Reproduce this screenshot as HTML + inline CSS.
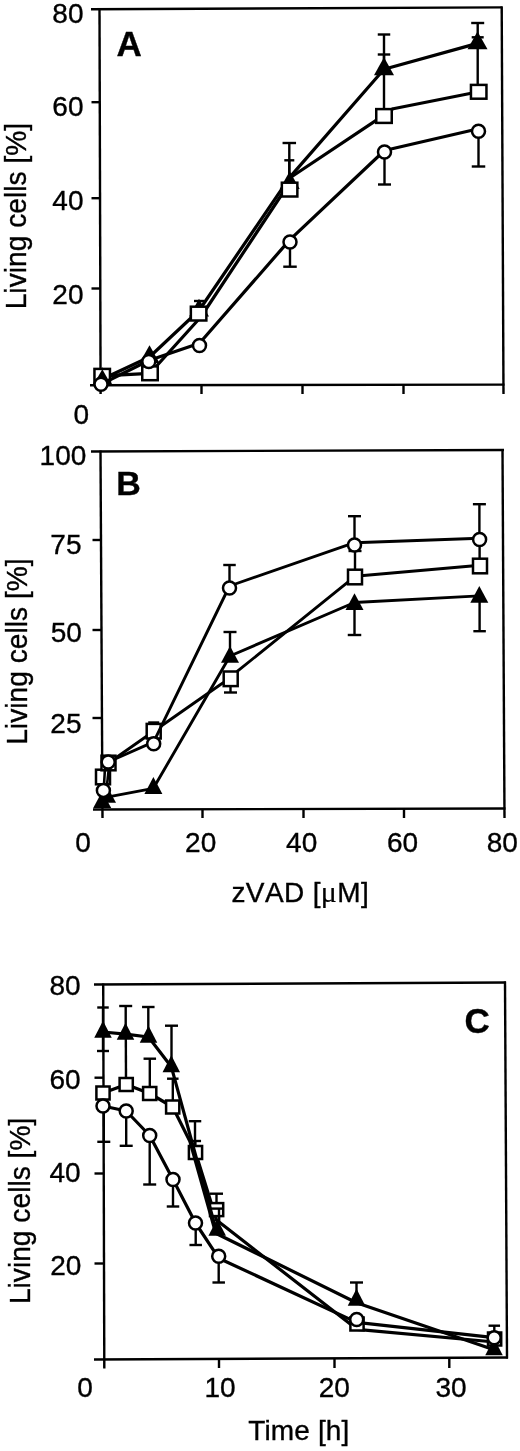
<!DOCTYPE html>
<html><head><meta charset="utf-8"><title>Figure</title>
<style>
html,body{margin:0;padding:0;background:#fff;}
svg{display:block;}
text{font-family:"Liberation Sans",sans-serif;fill:#000;stroke:#000;stroke-width:0.35px;}
</style></head><body>
<svg width="520" height="1451" viewBox="0 0 520 1451">
<rect width="520" height="1451" fill="#fff"/>
<line x1="91" y1="9.3" x2="502.5" y2="7.4" stroke="#000" stroke-width="2.4" stroke-linecap="butt"/>
<line x1="99.5" y1="8.3" x2="100.6" y2="394" stroke="#000" stroke-width="2.4" stroke-linecap="butt"/>
<line x1="501.7" y1="6.4" x2="503.5" y2="394" stroke="#000" stroke-width="2.4" stroke-linecap="butt"/>
<line x1="90" y1="385.2" x2="504.5" y2="384.6" stroke="#000" stroke-width="2.4" stroke-linecap="butt"/>
<line x1="91.5" y1="102.2" x2="100.5" y2="102.2" stroke="#000" stroke-width="2.4" stroke-linecap="butt"/>
<line x1="91.5" y1="198.2" x2="100.5" y2="198.2" stroke="#000" stroke-width="2.4" stroke-linecap="butt"/>
<line x1="91.5" y1="288.5" x2="100.5" y2="288.5" stroke="#000" stroke-width="2.4" stroke-linecap="butt"/>
<line x1="201.5" y1="385" x2="201.5" y2="394" stroke="#000" stroke-width="2.4" stroke-linecap="butt"/>
<line x1="302.5" y1="385" x2="302.5" y2="394" stroke="#000" stroke-width="2.4" stroke-linecap="butt"/>
<line x1="403.5" y1="385" x2="403.5" y2="394" stroke="#000" stroke-width="2.4" stroke-linecap="butt"/>
<text x="83.5" y="22.8" font-size="28" text-anchor="end" font-weight="normal" >80</text>
<text x="83.5" y="116" font-size="28" text-anchor="end" font-weight="normal" >60</text>
<text x="83.5" y="209.7" font-size="28" text-anchor="end" font-weight="normal" >40</text>
<text x="83.5" y="303.6" font-size="28" text-anchor="end" font-weight="normal" >20</text>
<text x="81.3" y="424" font-size="28" text-anchor="middle" font-weight="normal" >0</text>
<text x="116.5" y="56" font-size="35" text-anchor="start" font-weight="bold" >A</text>
<text transform="translate(25.8,216.1) rotate(-90) scale(1,1.055)" font-size="28.2" text-anchor="middle">Living cells [%]</text>
<line x1="199" y1="313" x2="199" y2="301" stroke="#000" stroke-width="2.4" stroke-linecap="butt"/>
<line x1="194.0" y1="301" x2="204.0" y2="301" stroke="#000" stroke-width="2.4" stroke-linecap="butt"/>
<line x1="289.3" y1="181" x2="289.3" y2="143" stroke="#000" stroke-width="2.4" stroke-linecap="butt"/>
<line x1="282.55" y1="143" x2="296.05" y2="143" stroke="#000" stroke-width="2.4" stroke-linecap="butt"/>
<line x1="289.3" y1="189" x2="289.3" y2="160.3" stroke="#000" stroke-width="2.4" stroke-linecap="butt"/>
<line x1="284.3" y1="160.3" x2="294.3" y2="160.3" stroke="#000" stroke-width="2.4" stroke-linecap="butt"/>
<line x1="384" y1="66" x2="384" y2="34.5" stroke="#000" stroke-width="2.4" stroke-linecap="butt"/>
<line x1="377.75" y1="34.5" x2="390.25" y2="34.5" stroke="#000" stroke-width="2.4" stroke-linecap="butt"/>
<line x1="384" y1="116" x2="384" y2="54.5" stroke="#000" stroke-width="2.4" stroke-linecap="butt"/>
<line x1="377.75" y1="54.5" x2="390.25" y2="54.5" stroke="#000" stroke-width="2.4" stroke-linecap="butt"/>
<line x1="477.7" y1="41" x2="477.7" y2="23" stroke="#000" stroke-width="2.4" stroke-linecap="butt"/>
<line x1="471.2" y1="23" x2="484.2" y2="23" stroke="#000" stroke-width="2.4" stroke-linecap="butt"/>
<line x1="477.7" y1="91" x2="477.7" y2="37.3" stroke="#000" stroke-width="2.4" stroke-linecap="butt"/>
<line x1="471.7" y1="37.3" x2="483.7" y2="37.3" stroke="#000" stroke-width="2.4" stroke-linecap="butt"/>
<line x1="290" y1="242" x2="290" y2="266.7" stroke="#000" stroke-width="2.4" stroke-linecap="butt"/>
<line x1="283.25" y1="266.7" x2="296.75" y2="266.7" stroke="#000" stroke-width="2.4" stroke-linecap="butt"/>
<line x1="384.5" y1="152" x2="384.5" y2="184.5" stroke="#000" stroke-width="2.4" stroke-linecap="butt"/>
<line x1="378.0" y1="184.5" x2="391.0" y2="184.5" stroke="#000" stroke-width="2.4" stroke-linecap="butt"/>
<line x1="478.5" y1="131" x2="478.5" y2="166.5" stroke="#000" stroke-width="2.4" stroke-linecap="butt"/>
<line x1="471.75" y1="166.5" x2="485.25" y2="166.5" stroke="#000" stroke-width="2.4" stroke-linecap="butt"/>
<polyline points="102.5,379 149.5,357 199,310.5 289.7,177.4 384,69.2 477.5,43.4" fill="none" stroke="#000" stroke-width="3.2" stroke-linejoin="round"/>
<polygon points="102.5,367.13 112.5,384.93 92.5,384.93" fill="#000"/>
<polygon points="149.5,345.13 159.5,362.93 139.5,362.93" fill="#000"/>
<polygon points="199,298.63 209.0,316.43 189.0,316.43" fill="#000"/>
<polygon points="289.7,171.13 299.7,188.93 279.7,188.93" fill="#000"/>
<polygon points="384,57.33 394.0,75.13 374.0,75.13" fill="#000"/>
<polygon points="477.5,31.53 487.5,49.33 467.5,49.33" fill="#000"/>
<polyline points="102.2,375.8 150,373.3 200.8,317 289.7,182.5 289.7,178 375,121.2 384,113 393.2,108.8 478.7,91.8" fill="none" stroke="#000" stroke-width="3.2" stroke-linejoin="round"/>
<rect x="94.45" y="368.90000000000003" width="15.5" height="13.8" fill="#fff" stroke="#000" stroke-width="2.5"/>
<rect x="142.25" y="366.40000000000003" width="15.5" height="13.8" fill="#fff" stroke="#000" stroke-width="2.5"/>
<rect x="190.85" y="306.70000000000005" width="15.5" height="13.8" fill="#fff" stroke="#000" stroke-width="2.5"/>
<rect x="281.85" y="182.7" width="15.5" height="13.8" fill="#fff" stroke="#000" stroke-width="2.5"/>
<rect x="376.25" y="109.1" width="15.5" height="13.8" fill="#fff" stroke="#000" stroke-width="2.5"/>
<rect x="470.95" y="84.89999999999999" width="15.5" height="13.8" fill="#fff" stroke="#000" stroke-width="2.5"/>
<polygon points="102.3,369.17 110.3,383.17 94.3,383.17" fill="#000"/>
<polyline points="101,384.2 148.8,360.5 199.5,343.2 290,239.6 384.5,150.5 478.5,128.8" fill="none" stroke="#000" stroke-width="3.2" stroke-linejoin="round"/>
<circle cx="101" cy="384.2" r="6.5" fill="#fff" stroke="#000" stroke-width="2.5"/>
<circle cx="148.8" cy="361.5" r="6.5" fill="#fff" stroke="#000" stroke-width="2.5"/>
<circle cx="199.5" cy="345.5" r="6.5" fill="#fff" stroke="#000" stroke-width="2.5"/>
<circle cx="290" cy="242" r="6.5" fill="#fff" stroke="#000" stroke-width="2.5"/>
<circle cx="384.5" cy="152" r="6.5" fill="#fff" stroke="#000" stroke-width="2.5"/>
<circle cx="478.5" cy="131.2" r="6.5" fill="#fff" stroke="#000" stroke-width="2.5"/>
<line x1="91" y1="451.5" x2="504" y2="450" stroke="#000" stroke-width="2.4" stroke-linecap="butt"/>
<line x1="100.5" y1="450.5" x2="102.5" y2="818" stroke="#000" stroke-width="2.4" stroke-linecap="butt"/>
<line x1="502.5" y1="449" x2="504.5" y2="818" stroke="#000" stroke-width="2.4" stroke-linecap="butt"/>
<line x1="93" y1="809.5" x2="505.5" y2="808.5" stroke="#000" stroke-width="2.4" stroke-linecap="butt"/>
<line x1="92.5" y1="540" x2="101.5" y2="540" stroke="#000" stroke-width="2.4" stroke-linecap="butt"/>
<line x1="92.5" y1="630" x2="101.5" y2="630" stroke="#000" stroke-width="2.4" stroke-linecap="butt"/>
<line x1="92.5" y1="718" x2="101.5" y2="718" stroke="#000" stroke-width="2.4" stroke-linecap="butt"/>
<line x1="202.5" y1="809" x2="202.5" y2="818" stroke="#000" stroke-width="2.4" stroke-linecap="butt"/>
<line x1="303.5" y1="809" x2="303.5" y2="818" stroke="#000" stroke-width="2.4" stroke-linecap="butt"/>
<line x1="404" y1="809" x2="404" y2="818" stroke="#000" stroke-width="2.4" stroke-linecap="butt"/>
<text x="86.3" y="465" font-size="28" text-anchor="end" font-weight="normal" >100</text>
<text x="81.5" y="554.3" font-size="28" text-anchor="end" font-weight="normal" >75</text>
<text x="81.8" y="641.6" font-size="28" text-anchor="end" font-weight="normal" >50</text>
<text x="81.5" y="733.3" font-size="28" text-anchor="end" font-weight="normal" >25</text>
<text x="83" y="852" font-size="28" text-anchor="middle" font-weight="normal" >0</text>
<text x="200.7" y="852" font-size="28" text-anchor="middle" font-weight="normal" >20</text>
<text x="301.7" y="852" font-size="28" text-anchor="middle" font-weight="normal" >40</text>
<text x="402.6" y="852" font-size="28" text-anchor="middle" font-weight="normal" >60</text>
<text x="502.3" y="852" font-size="28" text-anchor="middle" font-weight="normal" >80</text>
<text x="116.3" y="495" font-size="34" text-anchor="start" font-weight="bold" >B</text>
<text transform="translate(27.3,651.6) rotate(-90) scale(1,1.055)" font-size="28.2" text-anchor="middle">Living cells [%]</text>
<text x="231.5" y="901.6" font-size="28" text-anchor="start" textLength="137.3" lengthAdjust="spacing" style="font-kerning:none">zVAD [<tspan style="font-family:'Liberation Serif','DejaVu Serif',serif;font-size:30px;stroke-width:0.2px">μ</tspan>M]</text>
<line x1="153.7" y1="731" x2="153.7" y2="722.5" stroke="#000" stroke-width="2.4" stroke-linecap="butt"/>
<line x1="148.2" y1="722.5" x2="159.2" y2="722.5" stroke="#000" stroke-width="2.4" stroke-linecap="butt"/>
<line x1="229.5" y1="588" x2="229.5" y2="565" stroke="#000" stroke-width="2.4" stroke-linecap="butt"/>
<line x1="223.25" y1="565" x2="235.75" y2="565" stroke="#000" stroke-width="2.4" stroke-linecap="butt"/>
<line x1="230" y1="655" x2="230" y2="632" stroke="#000" stroke-width="2.4" stroke-linecap="butt"/>
<line x1="223.5" y1="632" x2="236.5" y2="632" stroke="#000" stroke-width="2.4" stroke-linecap="butt"/>
<line x1="230.5" y1="678" x2="230.5" y2="692.5" stroke="#000" stroke-width="2.4" stroke-linecap="butt"/>
<line x1="224.0" y1="692.5" x2="237.0" y2="692.5" stroke="#000" stroke-width="2.4" stroke-linecap="butt"/>
<line x1="354.5" y1="545" x2="354.5" y2="516.2" stroke="#000" stroke-width="2.4" stroke-linecap="butt"/>
<line x1="348.0" y1="516.2" x2="361.0" y2="516.2" stroke="#000" stroke-width="2.4" stroke-linecap="butt"/>
<line x1="355" y1="577" x2="355" y2="551" stroke="#000" stroke-width="2.4" stroke-linecap="butt"/>
<line x1="348.5" y1="551" x2="361.5" y2="551" stroke="#000" stroke-width="2.4" stroke-linecap="butt"/>
<line x1="354.5" y1="603" x2="354.5" y2="635" stroke="#000" stroke-width="2.4" stroke-linecap="butt"/>
<line x1="347.75" y1="635" x2="361.25" y2="635" stroke="#000" stroke-width="2.4" stroke-linecap="butt"/>
<line x1="479.4" y1="539" x2="479.4" y2="504.2" stroke="#000" stroke-width="2.4" stroke-linecap="butt"/>
<line x1="472.9" y1="504.2" x2="485.9" y2="504.2" stroke="#000" stroke-width="2.4" stroke-linecap="butt"/>
<line x1="479.6" y1="566" x2="479.6" y2="546" stroke="#000" stroke-width="2.4" stroke-linecap="butt"/>
<line x1="479.6" y1="596" x2="479.6" y2="631.2" stroke="#000" stroke-width="2.4" stroke-linecap="butt"/>
<line x1="473.35" y1="631.2" x2="485.85" y2="631.2" stroke="#000" stroke-width="2.4" stroke-linecap="butt"/>
<polyline points="102.2,802.5 107,797.2 153.4,788.3 230,656 354.5,602.5 479.3,595.9" fill="none" stroke="#000" stroke-width="2.9" stroke-linejoin="round"/>
<polygon points="102.2,791.30 111.2,808.10 93.2,808.10" fill="#000"/>
<polygon points="107,786.00 116.0,802.80 98.0,802.80" fill="#000"/>
<polygon points="153.4,777.10 162.4,793.90 144.4,793.90" fill="#000"/>
<polygon points="230,645.90 239.0,662.70 221.0,662.70" fill="#000"/>
<polygon points="354.5,593.30 363.5,610.10 345.5,610.10" fill="#000"/>
<polygon points="479.3,586.00 488.3,602.80 470.3,602.80" fill="#000"/>
<polyline points="103,777 108.5,763 153.7,731.2 220.2,684.8 230.5,678 237.5,671.2 355,576.3 480,565.3" fill="none" stroke="#000" stroke-width="2.9" stroke-linejoin="round"/>
<rect x="96.0" y="769.7" width="14" height="14.6" fill="#fff" stroke="#000" stroke-width="2.5"/>
<rect x="101.5" y="755.7" width="14" height="14.6" fill="#fff" stroke="#000" stroke-width="2.5"/>
<rect x="146.7" y="723.9000000000001" width="14" height="14.6" fill="#fff" stroke="#000" stroke-width="2.5"/>
<rect x="223.7" y="671.5" width="14" height="14.6" fill="#fff" stroke="#000" stroke-width="2.5"/>
<rect x="348.0" y="569.7" width="14" height="14.6" fill="#fff" stroke="#000" stroke-width="2.5"/>
<rect x="473.0" y="558.7" width="14" height="14.6" fill="#fff" stroke="#000" stroke-width="2.5"/>
<line x1="104.0" y1="785" x2="105.0" y2="768" stroke="#000" stroke-width="2.6" stroke-linecap="butt"/>
<line x1="107.0" y1="785" x2="108.9" y2="768" stroke="#000" stroke-width="2.6" stroke-linecap="butt"/>
<polyline points="108.2,762 153.7,741.9 229.5,586 354.5,542.7 479.6,538.2" fill="none" stroke="#000" stroke-width="2.9" stroke-linejoin="round"/>
<circle cx="103.4" cy="790.4" r="6.5" fill="#fff" stroke="#000" stroke-width="2.5"/>
<circle cx="108.2" cy="762" r="6.5" fill="#fff" stroke="#000" stroke-width="2.5"/>
<circle cx="153.7" cy="743.7" r="6.5" fill="#fff" stroke="#000" stroke-width="2.5"/>
<circle cx="229.5" cy="588" r="6.5" fill="#fff" stroke="#000" stroke-width="2.5"/>
<circle cx="354.5" cy="545" r="6.5" fill="#fff" stroke="#000" stroke-width="2.5"/>
<circle cx="479.6" cy="539.5" r="6.5" fill="#fff" stroke="#000" stroke-width="2.5"/>
<line x1="94" y1="984.5" x2="506" y2="982.5" stroke="#000" stroke-width="2.4" stroke-linecap="butt"/>
<line x1="103.2" y1="983.5" x2="104.3" y2="1368.5" stroke="#000" stroke-width="2.4" stroke-linecap="butt"/>
<line x1="505" y1="981.5" x2="507" y2="1358.5" stroke="#000" stroke-width="2.4" stroke-linecap="butt"/>
<line x1="94" y1="1359.5" x2="508" y2="1357.5" stroke="#000" stroke-width="2.4" stroke-linecap="butt"/>
<line x1="94.5" y1="1077.7" x2="104" y2="1077.7" stroke="#000" stroke-width="2.4" stroke-linecap="butt"/>
<line x1="94.5" y1="1173.5" x2="104" y2="1173.5" stroke="#000" stroke-width="2.4" stroke-linecap="butt"/>
<line x1="94.5" y1="1263.5" x2="104" y2="1263.5" stroke="#000" stroke-width="2.4" stroke-linecap="butt"/>
<line x1="219" y1="1358.5" x2="219" y2="1368" stroke="#000" stroke-width="2.4" stroke-linecap="butt"/>
<line x1="334.5" y1="1358.5" x2="334.5" y2="1368" stroke="#000" stroke-width="2.4" stroke-linecap="butt"/>
<line x1="449.3" y1="1358.5" x2="449.3" y2="1368" stroke="#000" stroke-width="2.4" stroke-linecap="butt"/>
<text x="80.6" y="995" font-size="28" text-anchor="end" font-weight="normal" >80</text>
<text x="80.6" y="1089" font-size="28" text-anchor="end" font-weight="normal" >60</text>
<text x="80.6" y="1182" font-size="28" text-anchor="end" font-weight="normal" >40</text>
<text x="81.3" y="1275" font-size="28" text-anchor="end" font-weight="normal" >20</text>
<text x="85" y="1397" font-size="28" text-anchor="middle" font-weight="normal" >0</text>
<text x="220" y="1397" font-size="28" text-anchor="middle" font-weight="normal" >10</text>
<text x="334.3" y="1397" font-size="28" text-anchor="middle" font-weight="normal" >20</text>
<text x="451" y="1397" font-size="28" text-anchor="middle" font-weight="normal" >30</text>
<text x="464.5" y="1032.5" font-size="35" text-anchor="start" font-weight="bold" >C</text>
<text transform="translate(30.3,1210.9) rotate(-90) scale(1,1.055)" font-size="28.2" text-anchor="middle">Living cells [%]</text>
<text x="248.3" y="1440" font-size="28" text-anchor="start" font-weight="normal" textLength="101" lengthAdjust="spacing">Time [h]</text>
<line x1="103" y1="1030" x2="103" y2="1007.5" stroke="#000" stroke-width="2.4" stroke-linecap="butt"/>
<line x1="97.25" y1="1007.5" x2="108.75" y2="1007.5" stroke="#000" stroke-width="2.4" stroke-linecap="butt"/>
<line x1="103" y1="1030" x2="103" y2="1051" stroke="#000" stroke-width="2.4" stroke-linecap="butt"/>
<line x1="97.0" y1="1051" x2="109.0" y2="1051" stroke="#000" stroke-width="2.4" stroke-linecap="butt"/>
<line x1="125.7" y1="1031" x2="125.7" y2="1006" stroke="#000" stroke-width="2.4" stroke-linecap="butt"/>
<line x1="119.2" y1="1006" x2="132.2" y2="1006" stroke="#000" stroke-width="2.4" stroke-linecap="butt"/>
<line x1="148.3" y1="1034" x2="148.3" y2="1007" stroke="#000" stroke-width="2.4" stroke-linecap="butt"/>
<line x1="142.05" y1="1007" x2="154.55" y2="1007" stroke="#000" stroke-width="2.4" stroke-linecap="butt"/>
<line x1="171.5" y1="1064" x2="171.5" y2="1025.7" stroke="#000" stroke-width="2.4" stroke-linecap="butt"/>
<line x1="165.0" y1="1025.7" x2="178.0" y2="1025.7" stroke="#000" stroke-width="2.4" stroke-linecap="butt"/>
<line x1="195" y1="1147" x2="195" y2="1121.2" stroke="#000" stroke-width="2.4" stroke-linecap="butt"/>
<line x1="188.75" y1="1121.2" x2="201.25" y2="1121.2" stroke="#000" stroke-width="2.4" stroke-linecap="butt"/>
<line x1="356.5" y1="1298" x2="356.5" y2="1282.5" stroke="#000" stroke-width="2.4" stroke-linecap="butt"/>
<line x1="350.0" y1="1282.5" x2="363.0" y2="1282.5" stroke="#000" stroke-width="2.4" stroke-linecap="butt"/>
<line x1="125.8" y1="1034" x2="126" y2="1078" stroke="#000" stroke-width="2.4" stroke-linecap="butt"/>
<line x1="149.8" y1="1093" x2="149.8" y2="1058.7" stroke="#000" stroke-width="2.4" stroke-linecap="butt"/>
<line x1="143.55" y1="1058.7" x2="156.05" y2="1058.7" stroke="#000" stroke-width="2.4" stroke-linecap="butt"/>
<line x1="172.8" y1="1107" x2="172.8" y2="1078.7" stroke="#000" stroke-width="2.4" stroke-linecap="butt"/>
<line x1="167.05" y1="1078.7" x2="178.55" y2="1078.7" stroke="#000" stroke-width="2.4" stroke-linecap="butt"/>
<line x1="195.3" y1="1152" x2="195.3" y2="1141" stroke="#000" stroke-width="2.4" stroke-linecap="butt"/>
<line x1="189.55" y1="1141" x2="201.05" y2="1141" stroke="#000" stroke-width="2.4" stroke-linecap="butt"/>
<line x1="216.5" y1="1209" x2="216.5" y2="1193.7" stroke="#000" stroke-width="2.4" stroke-linecap="butt"/>
<line x1="210.0" y1="1193.7" x2="223.0" y2="1193.7" stroke="#000" stroke-width="2.4" stroke-linecap="butt"/>
<line x1="209" y1="1208.6" x2="224" y2="1208.6" stroke="#000" stroke-width="2.4" stroke-linecap="butt"/>
<line x1="219" y1="1208.6" x2="219" y2="1222" stroke="#000" stroke-width="2.4" stroke-linecap="butt"/>
<line x1="103.8" y1="1106" x2="103.8" y2="1141.8" stroke="#000" stroke-width="2.4" stroke-linecap="butt"/>
<line x1="97.3" y1="1141.8" x2="110.3" y2="1141.8" stroke="#000" stroke-width="2.4" stroke-linecap="butt"/>
<line x1="126.2" y1="1111" x2="126.2" y2="1145.8" stroke="#000" stroke-width="2.4" stroke-linecap="butt"/>
<line x1="119.7" y1="1145.8" x2="132.7" y2="1145.8" stroke="#000" stroke-width="2.4" stroke-linecap="butt"/>
<line x1="149.7" y1="1135" x2="149.7" y2="1184.5" stroke="#000" stroke-width="2.4" stroke-linecap="butt"/>
<line x1="143.2" y1="1184.5" x2="156.2" y2="1184.5" stroke="#000" stroke-width="2.4" stroke-linecap="butt"/>
<line x1="173" y1="1179" x2="173" y2="1206.5" stroke="#000" stroke-width="2.4" stroke-linecap="butt"/>
<line x1="166.75" y1="1206.5" x2="179.25" y2="1206.5" stroke="#000" stroke-width="2.4" stroke-linecap="butt"/>
<line x1="195.7" y1="1223" x2="195.7" y2="1245" stroke="#000" stroke-width="2.4" stroke-linecap="butt"/>
<line x1="189.45" y1="1245" x2="201.95" y2="1245" stroke="#000" stroke-width="2.4" stroke-linecap="butt"/>
<line x1="218.7" y1="1256" x2="218.7" y2="1282.5" stroke="#000" stroke-width="2.4" stroke-linecap="butt"/>
<line x1="212.45" y1="1282.5" x2="224.95" y2="1282.5" stroke="#000" stroke-width="2.4" stroke-linecap="butt"/>
<line x1="494.3" y1="1337" x2="494.3" y2="1325.7" stroke="#000" stroke-width="2.4" stroke-linecap="butt"/>
<line x1="488.55" y1="1325.7" x2="500.05" y2="1325.7" stroke="#000" stroke-width="2.4" stroke-linecap="butt"/>
<polyline points="103,1093 126.2,1084.5 149.7,1093.5 172.7,1107 195.5,1152.5 216.5,1220 357,1329.3 494.6,1342" fill="none" stroke="#000" stroke-width="3.2" stroke-linejoin="round"/>
<rect x="96.4" y="1086.5" width="13.2" height="13" fill="#fff" stroke="#000" stroke-width="2.5"/>
<rect x="119.60000000000001" y="1078.0" width="13.2" height="13" fill="#fff" stroke="#000" stroke-width="2.5"/>
<rect x="143.1" y="1087.0" width="13.2" height="13" fill="#fff" stroke="#000" stroke-width="2.5"/>
<rect x="166.1" y="1100.5" width="13.2" height="13" fill="#fff" stroke="#000" stroke-width="2.5"/>
<rect x="188.9" y="1146.0" width="13.2" height="13" fill="#fff" stroke="#000" stroke-width="2.5"/>
<rect x="210.0" y="1203.1" width="13.2" height="13" fill="#fff" stroke="#000" stroke-width="2.5"/>
<rect x="350.4" y="1317.5" width="13.2" height="13" fill="#fff" stroke="#000" stroke-width="2.5"/>
<rect x="488.0" y="1332.5" width="13.2" height="13" fill="#fff" stroke="#000" stroke-width="2.5"/>
<line x1="209" y1="1208.6" x2="224" y2="1208.6" stroke="#000" stroke-width="2.4" stroke-linecap="butt"/>
<line x1="219" y1="1208.6" x2="219" y2="1222" stroke="#000" stroke-width="2.4" stroke-linecap="butt"/>
<line x1="190.0" y1="1142" x2="214.2" y2="1228" stroke="#000" stroke-width="3.0" stroke-linecap="butt"/>
<polyline points="103,1032 125.5,1034.2 148.5,1037 171.3,1066.7 217.2,1234 356.5,1302.7 494,1349.7" fill="none" stroke="#000" stroke-width="3.2" stroke-linejoin="round"/>
<polygon points="103,1020.67 111.75,1037.67 94.25,1037.67" fill="#000"/>
<polygon points="125.5,1022.87 134.25,1039.87 116.75,1039.87" fill="#000"/>
<polygon points="148.5,1025.67 157.25,1042.67 139.75,1042.67" fill="#000"/>
<polygon points="171.3,1055.37 180.05,1072.37 162.55,1072.37" fill="#000"/>
<polygon points="217.2,1218.67 225.95,1235.67 208.45,1235.67" fill="#000"/>
<polygon points="356.5,1288.67 365.25,1305.67 347.75,1305.67" fill="#000"/>
<polygon points="494,1338.37 502.75,1355.37 485.25,1355.37" fill="#000"/>
<polyline points="103,1106 126.2,1111 149.7,1135.5 173,1179.5 195.5,1223 218.7,1258.2 356.7,1322.4 494.2,1337.7" fill="none" stroke="#000" stroke-width="3.2" stroke-linejoin="round"/>
<circle cx="103" cy="1106" r="6.5" fill="#fff" stroke="#000" stroke-width="2.5"/>
<circle cx="126.2" cy="1111" r="6.5" fill="#fff" stroke="#000" stroke-width="2.5"/>
<circle cx="149.7" cy="1135.5" r="6.5" fill="#fff" stroke="#000" stroke-width="2.5"/>
<circle cx="173" cy="1179.5" r="6.5" fill="#fff" stroke="#000" stroke-width="2.5"/>
<circle cx="195.5" cy="1223" r="6.5" fill="#fff" stroke="#000" stroke-width="2.5"/>
<circle cx="218.7" cy="1256.2" r="6.5" fill="#fff" stroke="#000" stroke-width="2.5"/>
<circle cx="356.7" cy="1319.5" r="6.5" fill="#fff" stroke="#000" stroke-width="2.5"/>
<circle cx="494.2" cy="1337.7" r="6.5" fill="#fff" stroke="#000" stroke-width="2.5"/>
</svg>
</body></html>
